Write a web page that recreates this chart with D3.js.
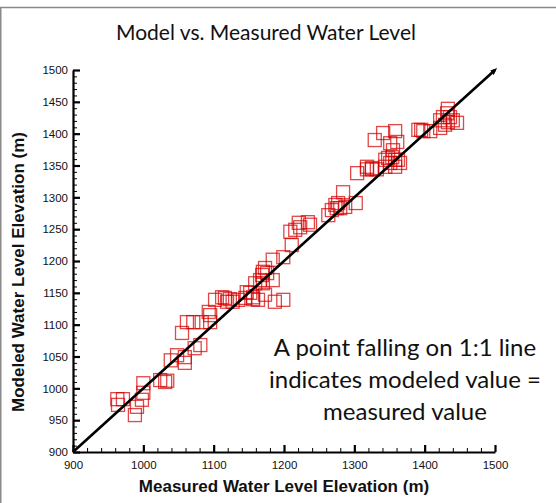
<!doctype html>
<html lang="en">
<head>
  <meta charset="utf-8">
  <script src="https://d3js.org/d3.v7.min.js"></script>
  <title>Model vs. Measured Water Level</title>
  <style type="text/css">
    html, body { margin: 0; padding: 0; background: #fff; }
    svg { display: block; }
  </style>
</head>
<body>
<script>
  // measured vs modeled water level elevation (m)
  var measured = [963, 971, 964, 991, 988, 1000, 1000, 998, 1024, 1031, 1034,
    1039, 1048, 1059, 1059, 1073, 1081, 1055, 1062, 1071, 1083, 1093, 1095, 1095,
    1102, 1112, 1116, 1119, 1123, 1127, 1135, 1145, 1152, 1156, 1159, 1166, 1169,
    1170, 1173, 1176, 1170, 1173, 1187, 1199, 1184, 1184, 1199, 1211, 1209, 1216,
    1221, 1223, 1237, 1234, 1263, 1268, 1273, 1277, 1275, 1280, 1287, 1284, 1302,
    1304, 1318, 1325, 1332, 1329, 1341, 1358, 1351, 1361, 1355, 1348, 1354, 1358,
    1344, 1362, 1365, 1358, 1344, 1351, 1318, 1325, 1391, 1395, 1398, 1408, 1422,
    1426, 1432, 1433, 1440, 1446, 1429, 1422, 1433, 1436, 1156, 1163, 1147];
  var modeled = [983, 983, 974, 971, 958, 1008, 993, 982, 1013, 1010, 1012,
    1044, 1052, 1049, 1040, 1063, 1068, 1087, 1104, 1104, 1104, 1120, 1115, 1104,
    1139, 1143, 1142, 1136, 1140, 1136, 1139, 1142, 1150, 1140, 1165, 1170, 1178,
    1183, 1189, 1181, 1165, 1147, 1136, 1139, 1170, 1202, 1206, 1225, 1246, 1249,
    1260, 1253, 1257, 1261, 1272, 1280, 1288, 1291, 1283, 1283, 1285, 1308, 1291,
    1338, 1344, 1344, 1344, 1390, 1401, 1404, 1385, 1387, 1374, 1362, 1363, 1359,
    1359, 1359, 1354, 1348, 1348, 1354, 1348, 1346, 1406, 1406, 1404, 1404, 1421,
    1426, 1432, 1418, 1421, 1417, 1414, 1409, 1439, 1426, 1143, 1139, 1151];

  var xTicks = [900, 1000, 1100, 1200, 1300, 1400, 1500];
  var yTicks = [900, 950, 1000, 1050, 1100, 1150, 1200, 1250, 1300, 1350, 1400, 1450, 1500];
  var oneToOne = [900, 1500];

  var W = 556, H = 503;
  var margin = { top: 70, right: 61, bottom: 51, left: 73 },
    width = W - margin.left - margin.right,
    height = H - margin.top - margin.bottom;

  var arial = "'Liberation Sans', Arial, sans-serif";

  var svg = d3.select("body").append("svg")
    .attr("width", W)
    .attr("height", H);

  // outer frame (gray border at top and left)
  svg.append("rect")
    .attr("x", 0.75).attr("y", 7.5)
    .attr("width", W + 10).attr("height", H + 10)
    .attr("fill", "none")
    .attr("stroke", "#8a8a8a")
    .attr("stroke-width", 1.5);

  var g = svg.append("g")
    .attr("transform", "translate(" + margin.left + "," + margin.top + ")");

  var x = d3.scaleLinear().domain([900, 1500]).range([0, width]);
  var y = d3.scaleLinear().domain([900, 1500]).range([height, 0]);

  // minor ticks first (inward)
  g.append("g")
    .attr("transform", "translate(0," + height + ")")
    .call(d3.axisBottom(x).tickValues(d3.range(900, 1501, 20)).tickSize(-4).tickFormat(""))
    .call(function(a) { a.select(".domain").remove(); a.selectAll("line").attr("stroke-width", 1); });
  g.append("g")
    .call(d3.axisLeft(y).tickValues(d3.range(900, 1501, 10)).tickSize(-4).tickFormat(""))
    .call(function(a) { a.select(".domain").remove(); a.selectAll("line").attr("stroke-width", 1); });

  // major ticks
  var xAxis = g.append("g")
    .attr("transform", "translate(0," + height + ")")
    .call(d3.axisBottom(x).tickValues(xTicks).tickSize(-7).tickSizeOuter(0).tickPadding(9).tickFormat(d3.format("d")));
  var yAxis = g.append("g")
    .call(d3.axisLeft(y).tickValues(yTicks).tickSize(-7).tickSizeOuter(0).tickPadding(5).tickFormat(d3.format("d")));

  [xAxis, yAxis].forEach(function(a) {
    a.attr("font-family", arial);
    a.select(".domain").attr("stroke-width", 2.2);
    a.selectAll(".tick line").attr("stroke-width", 2.2);
    a.selectAll("text")
      .style("font-family", arial)
      .style("font-size", "11.5px")
      .attr("fill", "#111");
  });
  yAxis.selectAll(".tick text").attr("x", -5);

  // squares
  var s = 13;
  g.append("g")
    .selectAll("rect")
    .data(measured)
    .enter()
    .append("rect")
    .attr("x", function(d) { return x(d) - s / 2; })
    .attr("y", function(d, i) { return y(modeled[i]) - s / 2; })
    .attr("width", s)
    .attr("height", s)
    .attr("fill", "none")
    .attr("stroke", "#d40000")
    .attr("stroke-opacity", 0.72)
    .attr("stroke-width", 1.3);

  // 1:1 line with small arrow
  svg.append("defs").append("marker")
    .attr("id", "arrow")
    .attr("viewBox", "0 0 10 10")
    .attr("refX", 6).attr("refY", 5)
    .attr("markerUnits", "userSpaceOnUse")
    .attr("markerWidth", 7).attr("markerHeight", 7)
    .attr("orient", "auto")
    .append("path")
    .attr("d", "M0,1 L10,5 L0,9 z")
    .attr("fill", "#000");

  g.append("line")
    .attr("x1", x(oneToOne[0])).attr("y1", y(oneToOne[0]))
    .attr("x2", x(oneToOne[1])).attr("y2", y(oneToOne[1]))
    .attr("stroke", "#000")
    .attr("stroke-width", 2.6)
    .attr("marker-end", "url(#arrow)");

  // title
  svg.append("text")
    .attr("x", 266).attr("y", 40)
    .attr("text-anchor", "middle")
    .style("font-family", "Lato, 'Open Sans', sans-serif")
    .style("font-size", "21px")
    .attr("fill", "#111")
    .text("Model vs. Measured Water Level");

  // axis titles
  svg.append("text")
    .attr("x", margin.left + width / 2).attr("y", 492)
    .attr("text-anchor", "middle")
    .style("font-family", arial)
    .style("font-weight", "bold")
    .style("font-size", "17px")
    .attr("fill", "#111")
    .text("Measured Water Level Elevation (m)");

  svg.append("text")
    .attr("transform", "translate(24," + 272 + ") rotate(-90)")
    .attr("text-anchor", "middle")
    .style("font-family", arial)
    .style("font-weight", "bold")
    .style("font-size", "17px")
    .attr("fill", "#111")
    .text("Modeled Water Level Elevation (m)");

  // annotation
  var note = ["A point falling on 1:1 line", "indicates modeled value =", "measured value"];
  svg.append("g").selectAll("text")
    .data(note)
    .enter()
    .append("text")
    .attr("x", 405)
    .attr("y", function(d, i) { return 356 + i * 32; })
    .attr("text-anchor", "middle")
    .style("font-family", "Lato, 'Open Sans', sans-serif")
    .style("font-size", "24px")
    .attr("fill", "#111")
    .text(function(d) { return d; });
</script>
</body>
</html>
